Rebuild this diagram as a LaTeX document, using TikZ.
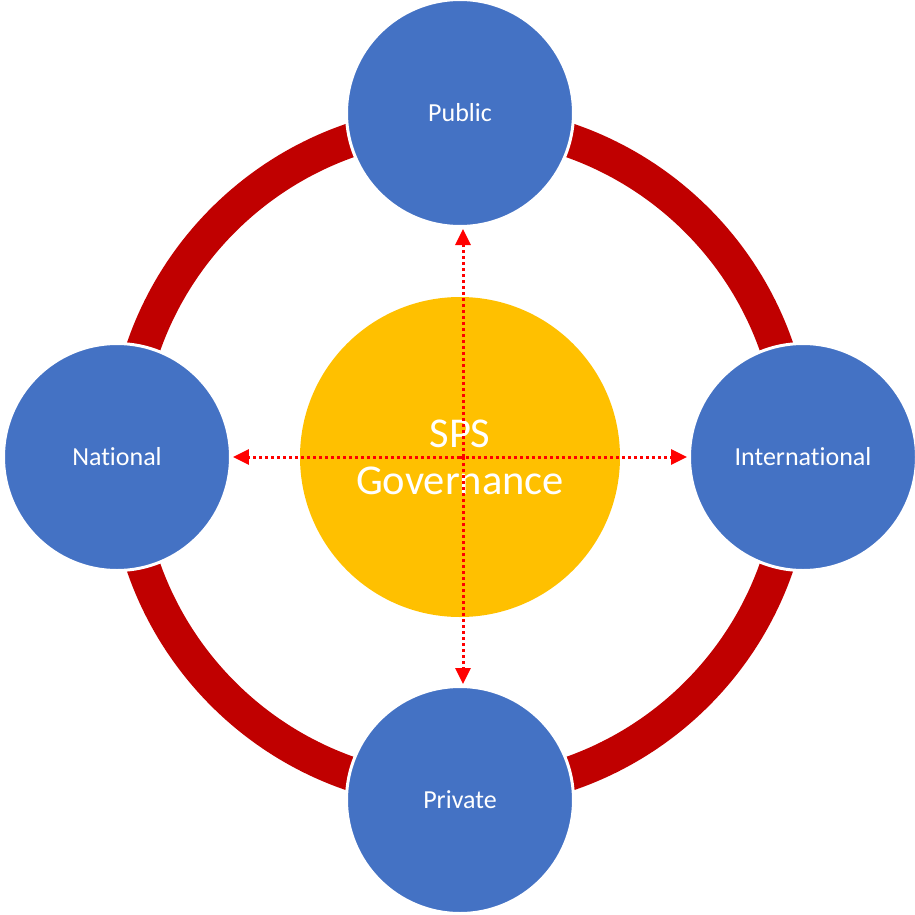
\documentclass[tikz,border=0pt]{standalone}
\usepackage{fontspec}
\setmainfont{Carlito}[Ligatures={NoCommon}]
\usetikzlibrary{arrows.meta}

\definecolor{actorblue}{HTML}{4472C4}
\definecolor{coreyellow}{HTML}{FFC000}
\definecolor{ringred}{HTML}{C00000}
\definecolor{flowred}{HTML}{FF0000}

\tikzset{
  actor/.style={circle, fill=actorblue, draw=white, line width=3pt,
                minimum size=227pt, inner sep=0pt, text=white,
                font=\fontsize{26}{31}\selectfont},
  core/.style={circle, fill=coreyellow, minimum size=320pt, inner sep=0pt,
               text=white, align=center, font=\fontsize{42.5}{47}\selectfont},
  flow/.style={draw=flowred, line width=3pt, dash pattern=on 3pt off 3pt,
               -{Triangle[length=16pt,width=15pt]}, shorten >=1pt},
}

\begin{document}
\begin{tikzpicture}[x=1pt,y=1pt]
        \useasboundingbox (-460,-457) rectangle (455,457);

        % ring behind everything
        \draw [ringred, line width=34pt] (0,0) circle (335pt);

        \node (public)  [actor] at (0,344)  {Public};
        \node (private) [actor] at (0,-343) {Private};
        \node (nat)     [actor] at (-343,0) {National};
        \node (intl)    [actor] at (343,0)  {International};

        \node (gov) [core] at (0,0) {SPS\\Governance};

        \draw [flow] ([xshift=3pt]gov.center) -- ([xshift=3pt]public.south);
        \draw [flow] ([xshift=3pt]gov.center) -- ([xshift=3pt]private.north);
        \draw [flow] (gov.center) -- (nat.east);
        \draw [flow] (gov.center) -- (intl.west);
      \end{tikzpicture}
\end{document}
